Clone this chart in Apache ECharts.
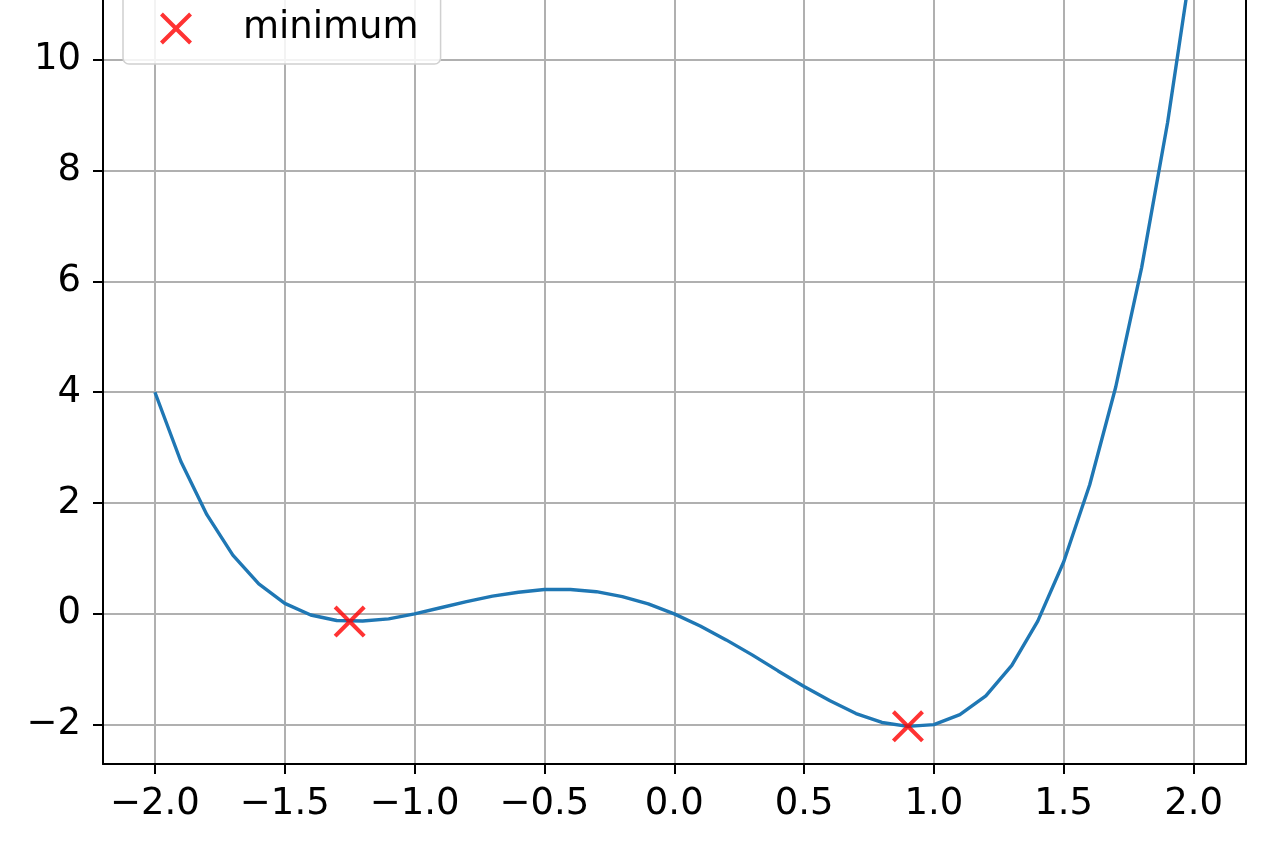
<!DOCTYPE html>
<html>
<head>
<meta charset="utf-8">
<script src="https://cdn.jsdelivr.net/npm/echarts@6/dist/echarts.min.js"></script>
<style>
html,body{margin:0;padding:0;background:#fff;}
#chart{width:1264px;height:848px;}
</style>
</head>
<body>
<div id="chart"></div>
<script>
// Curve samples
const xValues = [-2.0,-1.9,-1.8,-1.7,-1.6,-1.5,-1.4,-1.3,-1.2,-1.1,-1.0,-0.9,-0.8,-0.7,-0.6,-0.5,-0.4,-0.3,-0.2,-0.1,0.0,0.1,0.2,0.3,0.4,0.5,0.6,0.7,0.8,0.9,1.0,1.1,1.2,1.3,1.4,1.5,1.6,1.7,1.8,1.9,2.0];
const yValues = [4.00,2.75,1.79,1.06,0.54,0.19,-0.02,-0.12,-0.13,-0.09,0.00,0.11,0.22,0.32,0.39,0.44,0.44,0.40,0.31,0.18,0.00,-0.22,-0.47,-0.74,-1.03,-1.31,-1.57,-1.80,-1.96,-2.03,-2.00,-1.82,-1.48,-0.93,-0.13,0.94,2.33,4.09,6.25,8.87,12.00];
// Minimum markers
const minX = [-1.25, 0.90];
const minY = [-0.14, -2.03];
// Tick values
const xTicks = [-2.0,-1.5,-1.0,-0.5,0.0,0.5,1.0,1.5,2.0];
const yTicks = [-2,0,2,4,6,8,10];
const legendLabel = 'minimum';

const curve = xValues.map((x,i)=>[x,yValues[i]]);
const mins = minX.map((x,i)=>[x,minY[i]]);
const fmtNum = (v,d)=>{ const s = Math.abs(v).toFixed(d); return (v<0?'\u2212':'')+s; };
const crossPath = 'path://M0,9 L9,0 L50,41 L91,0 L100,9 L59,50 L100,91 L91,100 L50,59 L9,100 L0,91 L41,50 Z';
const FONT = 'DejaVu Sans';

const chart = echarts.init(document.getElementById('chart'), null, {renderer:'canvas'});
chart.setOption({
  backgroundColor:'#ffffff',
  animation:false,
  grid:{left:103, right:18.5, top:0, bottom:84, show:false},
  legend:{
    data:[legendLabel],
    left:123, top:-30,
    padding:[40,22,17,37],
    itemWidth:32, itemHeight:32,
    icon:crossPath,
    backgroundColor:'rgba(255,255,255,0.85)',
    borderColor:'#d0d0d0', borderWidth:1.5, borderRadius:6,
    textStyle:{fontFamily:FONT, fontSize:37, color:'#000', padding:[0,0,0,46]}
  },
  xAxis:{
    type:'value', min:-2.2, max:2.2,
    axisLine:{show:true, onZero:false, lineStyle:{color:'#000', width:2}},
    axisTick:{show:true, inside:false, length:10, lineStyle:{color:'#000', width:2}, customValues:xTicks},
    axisLabel:{customValues:xTicks, formatter:v=>fmtNum(v,1), fontFamily:FONT, fontSize:37, color:'#000', margin:22},
    splitLine:{show:true, lineStyle:{color:'#b0b0b0', width:2}}
  },
  yAxis:[{
    type:'value', min:-2.71, max:11.08,
    axisLine:{show:true, onZero:false, lineStyle:{color:'#000', width:2}},
    axisTick:{show:true, inside:false, length:10, lineStyle:{color:'#000', width:2}, customValues:yTicks},
    axisLabel:{customValues:yTicks, formatter:v=>fmtNum(v,0), fontFamily:FONT, fontSize:37, color:'#000', margin:22},
    splitLine:{show:true, lineStyle:{color:'#b0b0b0', width:2}}
  },{
    type:'value', position:'right', min:-2.71, max:11.08,
    axisLine:{show:true, onZero:false, lineStyle:{color:'#000', width:2}},
    axisTick:{show:false}, axisLabel:{show:false}, splitLine:{show:false}
  }],
  series:[
    {name:'f(x)', type:'line', data:curve, showSymbol:false, symbol:'none', smooth:false, clip:true,
     lineStyle:{color:'#1f77b4', width:3.4}, itemStyle:{color:'#1f77b4'}, z:3},
    {name:legendLabel, type:'scatter', data:mins, symbol:crossPath, symbolSize:32,
     itemStyle:{color:'#ff0000'}, z:4}
  ]
});
</script>
</body>
</html>
